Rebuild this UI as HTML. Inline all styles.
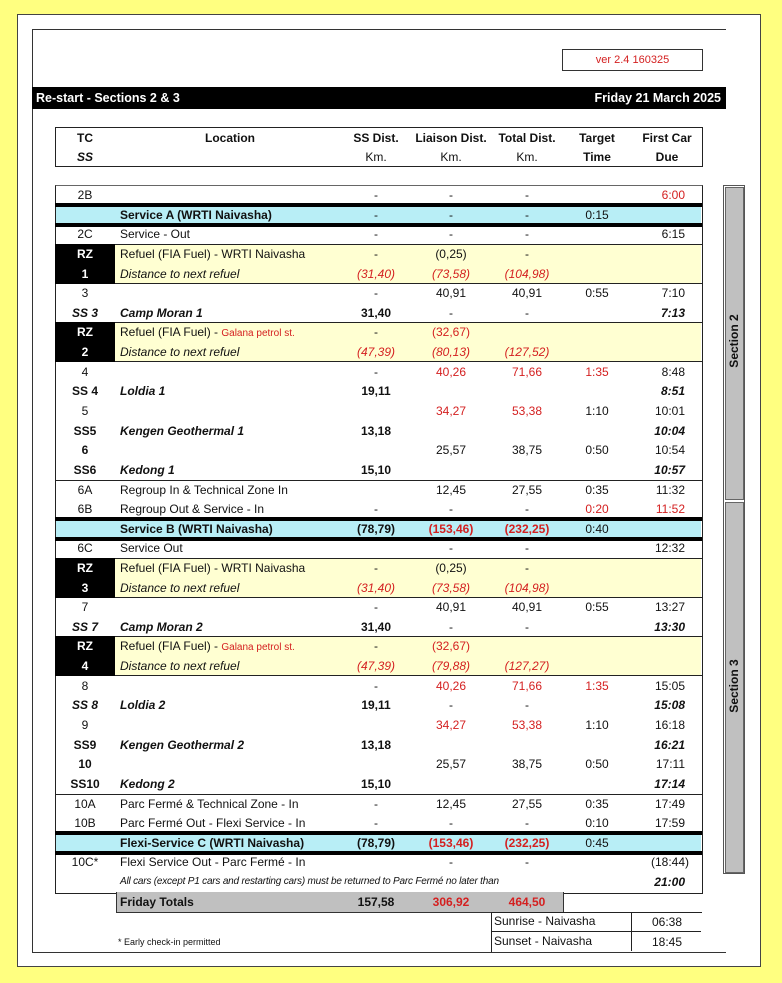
<!DOCTYPE html><html><head><meta charset="utf-8"><style>
body{margin:0;width:782px;height:983px;background:#ffff80;font-family:"Liberation Sans",Arial,sans-serif;font-size:12px;color:#111;position:relative;overflow:hidden}
.a{position:absolute}
.r{position:absolute;left:55px;width:647px;height:20px;line-height:20px}
.r span{position:absolute;top:0;white-space:nowrap}
.c0{left:0;width:60px;text-align:center}
.c1{left:65px}
.c2{left:285px;width:72px;text-align:center}
.c3{left:360px;width:72px;text-align:center}
.c4{left:435px;width:74px;text-align:center}
.c5{left:510px;width:64px;text-align:center}
.c6{left:570px;width:60px;text-align:right}
.red{color:#d42020}.b{font-weight:bold}.i{font-style:italic}
.y{background:#ffffd2}.cy{background:#b8eef6}
.rz{position:absolute;left:0;top:0;width:60px;height:40px;background:#000;color:#fff;font-weight:bold;text-align:center;line-height:20px}
.hl{position:absolute;left:55px;width:647px;height:1px;background:#222}
.tk{position:absolute;left:55px;width:647px;height:4px;background:#000}
</style></head><body>
<div class="a" style="left:17px;top:14px;width:742px;height:951px;background:#fff;border:1px solid #444"></div>
<div class="a" style="left:32px;top:29px;width:693px;height:922px;border:1px solid #333;border-right:none;border-bottom:1px solid #333"></div>
<div class="a" style="left:562px;top:49px;width:139px;height:20px;border:1px solid #333;color:#d42020;font-size:11px;text-align:center;line-height:20px">ver 2.4 160325</div>
<div class="a" style="left:32px;top:87px;width:694px;height:22px;background:#000;color:#fff;font-weight:bold;font-size:12.5px;line-height:22px"><span style="position:absolute;left:4px">Re-start - Sections 2 &amp; 3</span><span style="position:absolute;right:5px">Friday 21 March 2025</span></div>
<div class="a" style="left:55px;top:127px;width:646px;height:38px;border:1px solid #222;border-width:1px 1px 1px 1px"></div>
<div class="r b" style="top:128px"><span class="c0">TC</span><span class="c1" style="left:0;width:350px;text-align:center">Location</span><span class="c2">SS Dist.</span><span class="c3">Liaison Dist.</span><span class="c4">Total Dist.</span><span class="c5">Target</span><span class="c6" style="width:60px;text-align:center;left:582px">First Car</span></div>
<div class="r" style="top:147px"><span class="c0 b i">SS</span><span class="c2">Km.</span><span class="c3">Km.</span><span class="c4">Km.</span><span class="c5 b">Time</span><span class="c6 b" style="width:60px;text-align:center;left:582px">Due</span></div>
<div class="a" style="left:723px;top:185px;width:20px;height:687px;border:1px solid #555;background:#fff"></div>
<div class="a" style="left:725px;top:187px;width:17px;height:311px;background:#c0c0c0;border:1px solid #666"></div>
<div class="a" style="left:725px;top:502px;width:17px;height:369px;background:#c0c0c0;border:1px solid #666"></div>
<div class="a b" style="left:684px;top:333px;width:100px;height:16px;line-height:16px;text-align:center;transform:rotate(-90deg);font-size:12px">Section 2</div>
<div class="a b" style="left:684px;top:678px;width:100px;height:16px;line-height:16px;text-align:center;transform:rotate(-90deg);font-size:12px">Section 3</div>
<div class="a" style="left:55px;top:185px;width:646px;height:707px;border:1px solid #222;border-top:1px solid #666"></div>
<div class="a cy" style="left:56px;top:205px;width:645px;height:20px"></div>
<div class="a y" style="left:56px;top:244px;width:645px;height:39px"></div>
<div class="a y" style="left:56px;top:322px;width:645px;height:39px"></div>
<div class="a cy" style="left:56px;top:519px;width:645px;height:20px"></div>
<div class="a y" style="left:56px;top:558px;width:645px;height:39px"></div>
<div class="a y" style="left:56px;top:636px;width:645px;height:39px"></div>
<div class="a cy" style="left:56px;top:833px;width:645px;height:20px"></div>
<div class="a" style="left:116px;top:892px;width:446px;height:20px;background:#c0c0c0;border:1px solid #333;border-top:none"></div>
<div class="tk" style="top:203px"></div><div class="tk" style="top:223px"></div>
<div class="tk" style="top:517px"></div><div class="tk" style="top:537px"></div>
<div class="tk" style="top:831px"></div><div class="tk" style="top:851px"></div>
<div class="hl" style="top:244px"></div><div class="hl" style="top:283px"></div>
<div class="hl" style="top:322px"></div><div class="hl" style="top:361px"></div>
<div class="hl" style="top:480px"></div>
<div class="hl" style="top:558px"></div><div class="hl" style="top:597px"></div>
<div class="hl" style="top:636px"></div><div class="hl" style="top:675px"></div>
<div class="hl" style="top:794px"></div>
<div class="r" style="top:185px"><span class="c0">2B</span><span class="c2">-</span><span class="c3">-</span><span class="c4">-</span><span class="c6 red">6:00</span></div>
<div class="r" style="top:205px"><span class="c1 b">Service A (WRTI Naivasha)</span><span class="c2">-</span><span class="c3">-</span><span class="c4">-</span><span class="c5">0:15</span></div>
<div class="r" style="top:224px"><span class="c0">2C</span><span class="c1">Service - Out</span><span class="c2">-</span><span class="c3">-</span><span class="c4">-</span><span class="c6">6:15</span></div>
<div class="r" style="top:244px"><div class="rz">RZ<br>1</div><span class="c1">Refuel (FIA Fuel) - WRTI Naivasha</span><span class="c2">-</span><span class="c3">(0,25)</span><span class="c4">-</span></div>
<div class="r i" style="top:264px"><span class="c1">Distance to next refuel</span><span class="c2 red">(31,40)</span><span class="c3 red">(73,58)</span><span class="c4 red">(104,98)</span></div>
<div class="r" style="top:283px"><span class="c0">3</span><span class="c2">-</span><span class="c3">40,91</span><span class="c4">40,91</span><span class="c5">0:55</span><span class="c6">7:10</span></div>
<div class="r" style="top:303px"><span class="c0 b i">SS 3</span><span class="c1 b i">Camp Moran 1</span><span class="c2 b">31,40</span><span class="c3">-</span><span class="c4">-</span><span class="c6 b i">7:13</span></div>
<div class="r" style="top:322px"><div class="rz">RZ<br>2</div><span class="c1">Refuel (FIA Fuel) - <span class="red" style="position:static;font-size:10px">Galana petrol st.</span></span><span class="c2">-</span><span class="c3 red">(32,67)</span></div>
<div class="r i" style="top:342px"><span class="c1">Distance to next refuel</span><span class="c2 red">(47,39)</span><span class="c3 red">(80,13)</span><span class="c4 red">(127,52)</span></div>
<div class="r" style="top:362px"><span class="c0">4</span><span class="c2">-</span><span class="c3 red">40,26</span><span class="c4 red">71,66</span><span class="c5 red">1:35</span><span class="c6">8:48</span></div>
<div class="r" style="top:381px"><span class="c0 b">SS 4</span><span class="c1 b i">Loldia 1</span><span class="c2 b">19,11</span><span class="c6 b i">8:51</span></div>
<div class="r" style="top:401px"><span class="c0">5</span><span class="c3 red">34,27</span><span class="c4 red">53,38</span><span class="c5">1:10</span><span class="c6">10:01</span></div>
<div class="r" style="top:421px"><span class="c0 b">SS5</span><span class="c1 b i">Kengen Geothermal 1</span><span class="c2 b">13,18</span><span class="c6 b i">10:04</span></div>
<div class="r" style="top:440px"><span class="c0 b">6</span><span class="c3">25,57</span><span class="c4">38,75</span><span class="c5">0:50</span><span class="c6">10:54</span></div>
<div class="r" style="top:460px"><span class="c0 b">SS6</span><span class="c1 b i">Kedong 1</span><span class="c2 b">15,10</span><span class="c6 b i">10:57</span></div>
<div class="r" style="top:480px"><span class="c0">6A</span><span class="c1">Regroup In &amp; Technical Zone In</span><span class="c3">12,45</span><span class="c4">27,55</span><span class="c5">0:35</span><span class="c6">11:32</span></div>
<div class="r" style="top:499px"><span class="c0">6B</span><span class="c1">Regroup Out &amp; Service - In</span><span class="c2">-</span><span class="c3">-</span><span class="c4">-</span><span class="c5 red">0:20</span><span class="c6 red">11:52</span></div>
<div class="r" style="top:519px"><span class="c1 b">Service B (WRTI Naivasha)</span><span class="c2 b">(78,79)</span><span class="c3 b red">(153,46)</span><span class="c4 b red">(232,25)</span><span class="c5">0:40</span></div>
<div class="r" style="top:538px"><span class="c0">6C</span><span class="c1">Service Out</span><span class="c3">-</span><span class="c4">-</span><span class="c6">12:32</span></div>
<div class="r" style="top:558px"><div class="rz">RZ<br>3</div><span class="c1">Refuel (FIA Fuel) - WRTI Naivasha</span><span class="c2">-</span><span class="c3">(0,25)</span><span class="c4">-</span></div>
<div class="r i" style="top:578px"><span class="c1">Distance to next refuel</span><span class="c2 red">(31,40)</span><span class="c3 red">(73,58)</span><span class="c4 red">(104,98)</span></div>
<div class="r" style="top:597px"><span class="c0">7</span><span class="c2">-</span><span class="c3">40,91</span><span class="c4">40,91</span><span class="c5">0:55</span><span class="c6">13:27</span></div>
<div class="r" style="top:617px"><span class="c0 b i">SS 7</span><span class="c1 b i">Camp Moran 2</span><span class="c2 b">31,40</span><span class="c3">-</span><span class="c4">-</span><span class="c6 b i">13:30</span></div>
<div class="r" style="top:636px"><div class="rz">RZ<br>4</div><span class="c1">Refuel (FIA Fuel) - <span class="red" style="position:static;font-size:10px">Galana petrol st.</span></span><span class="c2">-</span><span class="c3 red">(32,67)</span></div>
<div class="r i" style="top:656px"><span class="c1">Distance to next refuel</span><span class="c2 red">(47,39)</span><span class="c3 red">(79,88)</span><span class="c4 red">(127,27)</span></div>
<div class="r" style="top:676px"><span class="c0">8</span><span class="c2">-</span><span class="c3 red">40,26</span><span class="c4 red">71,66</span><span class="c5 red">1:35</span><span class="c6">15:05</span></div>
<div class="r" style="top:695px"><span class="c0 b i">SS 8</span><span class="c1 b i">Loldia 2</span><span class="c2 b">19,11</span><span class="c3">-</span><span class="c4">-</span><span class="c6 b i">15:08</span></div>
<div class="r" style="top:715px"><span class="c0">9</span><span class="c3 red">34,27</span><span class="c4 red">53,38</span><span class="c5">1:10</span><span class="c6">16:18</span></div>
<div class="r" style="top:735px"><span class="c0 b">SS9</span><span class="c1 b i">Kengen Geothermal 2</span><span class="c2 b">13,18</span><span class="c6 b i">16:21</span></div>
<div class="r" style="top:754px"><span class="c0 b">10</span><span class="c3">25,57</span><span class="c4">38,75</span><span class="c5">0:50</span><span class="c6">17:11</span></div>
<div class="r" style="top:774px"><span class="c0 b">SS10</span><span class="c1 b i">Kedong 2</span><span class="c2 b">15,10</span><span class="c6 b i">17:14</span></div>
<div class="r" style="top:794px"><span class="c0">10A</span><span class="c1">Parc Fermé &amp; Technical Zone - In</span><span class="c2">-</span><span class="c3">12,45</span><span class="c4">27,55</span><span class="c5">0:35</span><span class="c6">17:49</span></div>
<div class="r" style="top:813px"><span class="c0">10B</span><span class="c1">Parc Fermé Out - Flexi Service - In</span><span class="c2">-</span><span class="c3">-</span><span class="c4">-</span><span class="c5">0:10</span><span class="c6">17:59</span></div>
<div class="r" style="top:833px"><span class="c1 b">Flexi-Service C (WRTI Naivasha)</span><span class="c2 b">(78,79)</span><span class="c3 b red">(153,46)</span><span class="c4 b red">(232,25)</span><span class="c5">0:45</span></div>
<div class="r" style="top:852px"><span class="c0">10C*</span><span class="c1">Flexi Service Out - Parc Fermé - In</span><span class="c3">-</span><span class="c4">-</span><span class="c6" style="left:570px;width:64px">(18:44)</span></div>
<div class="r" style="top:872px"><span class="c1 i" style="font-size:10px;letter-spacing:-0.2px">All cars (except P1 cars and restarting cars) must be returned to Parc Fermé no later than</span><span class="c6 b i">21:00</span></div>
<div class="r b" style="top:892px"><span class="c1">Friday Totals</span><span class="c2">157,58</span><span class="c3 red">306,92</span><span class="c4 red">464,50</span></div>
<div class="a" style="left:491px;top:912px;width:210px;height:39px;border-left:1px solid #222;border-top:1px solid #222"></div>
<div class="a" style="left:631px;top:912px;width:1px;height:39px;background:#222"></div>
<div class="a" style="left:491px;top:931px;width:210px;height:1px;background:#222"></div>
<div class="a" style="left:494px;top:912px;line-height:19px">Sunrise - Naivasha</div>
<div class="a" style="left:494px;top:932px;line-height:19px">Sunset - Naivasha</div>
<div class="a" style="left:632px;top:912px;width:70px;text-align:center;line-height:20px">06:38</div>
<div class="a" style="left:632px;top:932px;width:70px;text-align:center;line-height:20px">18:45</div>
<div class="a" style="left:118px;top:935px;font-size:9px;line-height:14px">* Early check-in permitted</div>
</body></html>
